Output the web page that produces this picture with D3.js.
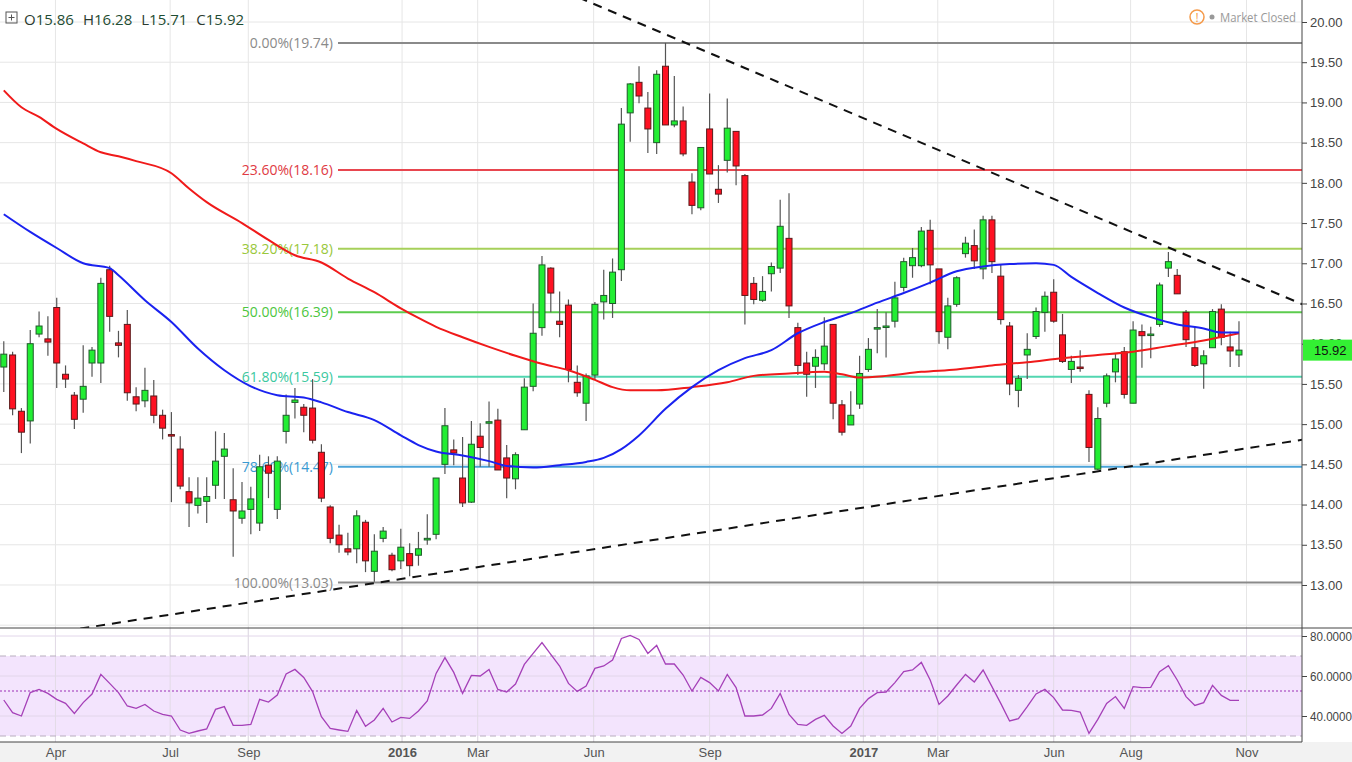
<!DOCTYPE html>
<html><head><meta charset="utf-8">
<script src="https://cdn.jsdelivr.net/npm/d3@7/dist/d3.min.js"></script>
<style>body{margin:0;background:#fff;font-family:"Open Sans","DejaVu Sans",sans-serif}</style>
</head><body><svg id="c" width="1352" height="762"></svg>
<script>
// ---------- DATA ----------
const startWeek = "2015-02-19"; // first weekly candle
// weekly OHLC [open, high, low, close]
const ohlc = [
[15.71,16.03,15.40,15.87],[15.86,15.90,15.11,15.19],[15.16,15.20,14.64,14.90],[15.04,16.17,14.76,16.00],[16.12,16.40,16.08,16.22],
[16.06,16.34,15.85,16.02],[16.45,16.57,15.45,15.76],[15.62,15.73,15.45,15.56],[15.36,15.40,14.94,15.06],[15.31,15.98,15.14,15.47],
[15.76,15.96,15.59,15.92],[15.76,16.82,15.51,16.75],[16.92,16.97,16.15,16.34],[16.01,16.16,15.83,15.98],[16.24,16.42,15.29,15.39],
[15.34,15.46,15.16,15.25],[15.29,15.70,15.21,15.42],[15.35,15.55,15.01,15.11],[15.11,15.18,14.81,14.95],[14.87,15.15,14.03,14.86],
[14.69,14.85,14.19,14.23],[14.16,14.34,13.72,14.02],[13.99,14.34,13.89,14.08],[14.04,14.34,13.77,14.10],[14.24,14.91,14.07,14.54],
[14.60,14.89,14.07,14.69],[14.06,14.45,13.35,13.92],[13.83,14.28,13.76,13.92],[13.94,14.22,13.63,14.07],[13.77,14.62,13.67,14.47],
[14.49,14.60,14.08,14.39],[13.94,14.60,13.82,14.54],[14.91,15.37,14.76,15.11],[15.27,15.45,15.07,15.30],[15.21,15.25,14.90,15.11],
[15.20,15.56,14.76,14.80],[14.65,14.75,14.03,14.08],[13.97,13.99,13.52,13.58],[13.62,13.75,13.40,13.50],[13.45,13.65,13.37,13.41],
[13.45,13.93,13.27,13.86],[13.78,13.81,13.16,13.30],[13.17,13.63,13.04,13.42],[13.58,13.72,13.53,13.67],[13.37,13.40,13.17,13.19],
[13.30,13.70,13.20,13.47],[13.39,13.52,13.11,13.24],[13.37,13.66,13.24,13.45],[13.56,13.88,13.50,13.58],[13.63,14.33,13.57,14.33],
[14.50,15.20,14.38,14.98],[14.68,14.81,14.49,14.64],[14.33,14.84,13.97,14.02],[14.03,15.04,14.02,14.75],[14.85,15.01,14.47,14.71],
[15.02,15.28,14.47,15.03],[15.05,15.19,14.43,14.43],[14.58,14.74,14.08,14.33],[14.32,14.65,14.19,14.62],[14.93,15.57,14.93,15.46],
[15.47,16.50,15.41,16.13],[16.20,17.09,16.10,16.98],[16.94,16.95,16.39,16.63],[16.28,16.65,16.08,16.24],[16.48,16.55,15.52,15.68],
[15.52,15.73,15.34,15.39],[15.26,15.63,15.04,15.60],[15.61,16.52,15.55,16.49],[16.52,16.92,16.30,16.60],[16.50,17.06,16.32,16.89],
[16.92,18.93,16.78,18.73],[18.87,19.24,18.51,19.23],[19.25,19.45,18.99,19.08],[18.93,19.13,18.37,18.67],[18.50,19.40,18.36,19.35],
[19.45,19.74,18.72,18.72],[18.72,19.33,18.69,18.77],[18.77,18.95,18.33,18.36],[18.01,18.12,17.61,17.72],[17.69,18.44,17.66,18.44],
[18.67,19.11,18.11,18.11],[17.92,18.22,17.75,17.86],[18.28,19.05,18.13,18.68],[18.64,18.64,17.97,18.21],[18.09,18.11,16.24,16.60],
[16.75,16.83,16.49,16.55],[16.54,16.84,16.52,16.65],[16.87,17.01,16.65,16.96],[16.94,17.79,16.88,17.46],[17.31,17.87,16.32,16.47],
[16.20,16.26,15.61,15.73],[15.76,15.90,15.34,15.62],[15.72,15.93,15.45,15.83],[15.75,16.33,15.67,15.97],[16.24,16.24,15.06,15.26],
[15.24,15.30,14.86,14.90],[14.99,15.41,14.99,15.11],[15.25,15.85,15.19,15.63],[15.68,16.07,15.65,15.93],[16.19,16.43,15.88,16.20],
[16.21,16.39,15.83,16.22],[16.28,16.77,16.20,16.57],[16.70,17.07,16.65,17.02],[16.97,17.19,16.82,17.07],[16.97,17.45,16.95,17.40],
[17.41,17.54,16.74,16.98],[16.93,16.93,16.00,16.15],[16.08,16.57,15.93,16.47],[16.49,16.84,16.46,16.82],[17.12,17.33,17.07,17.25],
[17.22,17.42,16.93,17.03],[16.93,17.59,16.80,17.54],[17.54,17.59,16.88,17.02],[16.84,16.98,16.24,16.30],[16.22,16.27,15.36,15.50],
[15.42,15.61,15.21,15.57],[15.86,16.13,15.56,15.93],[16.09,16.45,16.06,16.40],[16.39,16.65,16.15,16.59],[16.64,16.80,16.26,16.28],
[16.11,16.37,15.76,15.78],[15.68,15.85,15.51,15.78],[15.71,15.92,15.65,15.70],[15.37,15.42,14.53,14.71],[14.44,15.21,14.43,15.07],
[15.26,15.63,15.21,15.60],[15.65,15.88,15.52,15.81],[15.90,15.96,15.32,15.37],[15.26,16.28,15.26,16.17],[16.15,16.24,15.70,16.10],
[16.11,16.21,15.82,16.12],[16.24,16.76,16.21,16.73],[16.94,17.14,16.83,17.02],[16.85,16.93,16.62,16.62],[16.39,16.42,15.96,16.05],
[15.95,16.21,15.71,15.73],[15.75,15.92,15.44,15.85],[15.95,16.43,15.95,16.40],[16.43,16.49,15.98,16.08],[15.96,16.15,15.71,15.91],
[15.86,16.28,15.71,15.92]];
// moving averages sampled at week index: [index, value]
const maBlue = [[0,17.61],[3,17.39],[6,17.19],[9,17.00],[12,16.94],[13,16.85],[16,16.54],[19,16.27],[22,15.94],[25,15.67],[28,15.47],[31,15.36],[34,15.33],[36,15.27],[39,15.15],[42,15.05],[45,14.86],[47,14.74],[49,14.66],[52,14.61],[55,14.54],[57,14.48],[60,14.46],[63,14.49],[66,14.53],[68,14.58],[70,14.69],[72,14.86],[75,15.19],[78,15.46],[81,15.67],[84,15.82],[87,15.92],[90,16.13],[93,16.27],[96,16.38],[99,16.51],[102,16.63],[105,16.76],[108,16.90],[111,16.96],[114,16.99],[117,17.00],[119,16.98],[121,16.83],[124,16.63],[127,16.45],[130,16.33],[133,16.24],[136,16.19],[138,16.14],[140,16.14]];
const maRed = [[0,19.15],[2,18.94],[4,18.82],[6,18.67],[9,18.49],[11,18.38],[13,18.33],[15,18.27],[19,18.12],[21,17.93],[23,17.76],[27,17.50],[30,17.29],[33,17.10],[36,17.01],[39,16.81],[42,16.64],[45,16.44],[47,16.32],[49,16.21],[52,16.08],[55,15.96],[58,15.85],[61,15.75],[64,15.67],[67,15.55],[69,15.46],[71,15.42],[74,15.42],[78,15.46],[82,15.52],[85,15.60],[89,15.63],[93,15.65],[95,15.62],[97,15.58],[100,15.60],[104,15.65],[108,15.68],[112,15.73],[116,15.77],[120,15.82],[124,15.86],[128,15.90],[132,15.97],[136,16.04],[140,16.13]];
const rsi = [48,41.7,40,51.7,53.3,51.3,48.3,46.3,41.3,46.7,51,60.8,56.3,51.7,45,43.8,45.8,42.5,40.8,40,
33,31.3,32.5,33.5,43.3,44.7,35.3,35.3,35.8,48.3,47,50.5,61,63.3,59.3,52.2,39.7,33.8,33,32.3,
42.7,34.8,38,43.8,37,39.3,38.8,42.5,47.5,61.3,69.2,61.8,51.3,60.3,60,63.3,53.3,52,56,65.8,
71.3,76.7,70.8,65,56.3,52.3,55,63.8,65,68,78.8,80.3,78.3,71.3,75.3,66,66,
60.5,52.5,59.3,56.7,52.5,60.8,54.2,40,40,40.5,43.8,51.3,40.8,35.8,35.3,38.3,40.3,35,31.3,35,
43.8,48.7,51.7,52,56.7,62.2,63,66.8,58,45.8,50,55.5,60.8,57,63,54.7,46.3,37.5,38.7,44.7,
51,53.3,49.2,43,42.8,42,31.3,38.3,46.3,49.7,43.8,54.7,54.2,54.3,62.2,65.2,58,49.7,45.3,46.7,55.3,50.3,47.8,47.8];
const fibs = [
 {label:"0.00%(19.74)",v:19.74,c:"#8a8a8a",tc:"#8a8a8a"},
 {label:"23.60%(18.16)",v:18.16,c:"#e8464f",tc:"#e03a44"},
 {label:"38.20%(17.18)",v:17.18,c:"#a6d05a",tc:"#9ac83c"},
 {label:"50.00%(16.39)",v:16.39,c:"#5ccc4e",tc:"#4cc640"},
 {label:"61.80%(15.59)",v:15.59,c:"#52d6b0",tc:"#3cc8a0"},
 {label:"78.60%(14.47)",v:14.47,c:"#4ba3d8",tc:"#3a9ad2"},
 {label:"100.00%(13.03)",v:13.03,c:"#8a8a8a",tc:"#8a8a8a"}];
const trendDown = [[76,19.80],[133,17.15]];
const trendUp = [[43,13.04],[125,14.43]];
const priceTicks = [12.5,13,13.5,14,14.5,15,15.5,16,16.5,17,17.5,18,18.5,19,19.5,20];
const rsiTicks = [40,60,80];
const monthTicks = ["2015-04-01","2015-07-01","2015-09-01","2016-01-01","2016-03-01","2016-06-01","2016-09-01","2017-01-01","2017-03-01","2017-06-01","2017-08-01","2017-11-01"];
const lastClose = 15.92;

// ---------- CHART ----------
const svg = d3.select("#c");
const W = 1302, mainB = 628, rsiB = 742;
const x = d3.scaleTime().domain([new Date(2015,1,16), new Date(2017,11,15)]).range([0, W]);
const y = d3.scaleLinear().domain([12.5,20]).range([625.2,22]);
const yr = d3.scaleLinear().domain([40,80]).range([716,636]);
const d0 = new Date(startWeek+"T00:00:00");
const dt = i => d3.timeDay.offset(d0, 7*i);
const xi = i => x(dt(i));
const parse = s => new Date(s+"T00:00:00");
const axisFont = "'Liberation Sans',Arial,sans-serif";

svg.append("defs").append("clipPath").attr("id","cm").append("rect").attr("width",W).attr("height",mainB);
svg.append("rect").attr("x",0).attr("y",rsiB).attr("width",1352).attr("height",20).attr("fill","#f2f2f2");

// grids
const g = svg.append("g");
g.selectAll(".hg").data(priceTicks).join("line").attr("x1",0).attr("x2",W)
 .attr("y1",d=>y(d)).attr("y2",d=>y(d)).attr("stroke","#e6e6e6");
g.selectAll(".vg").data(monthTicks).join("line").attr("x1",d=>x(parse(d))).attr("x2",d=>x(parse(d)))
 .attr("y1",0).attr("y2",rsiB).attr("stroke","#e6e6e6");

// fib lines
const fg = svg.append("g");
const fib = fg.selectAll("g").data(fibs).join("g");
fib.append("line").attr("x1",338).attr("x2",W).attr("y1",d=>y(d.v)).attr("y2",d=>y(d.v))
 .attr("stroke",d=>d.c).attr("stroke-width",2);
fib.append("text").attr("x",333).attr("y",d=>y(d.v)+5).attr("text-anchor","end")
 .attr("font-size",14).attr("fill",d=>d.tc).text(d=>d.label);

const mg = svg.append("g").attr("clip-path","url(#cm)");
// trendlines
function tline(pts){
  const s=(pts[1][1]-pts[0][1])/(pts[1][0]-pts[0][0]);
  const a=-20,b=160;
  return [[a,pts[0][1]+s*(a-pts[0][0])],[b,pts[0][1]+s*(b-pts[0][0])]];
}
[trendDown,trendUp].forEach(p=>{
  const l=tline(p);
  mg.append("line").attr("x1",xi(l[0][0])).attr("y1",y(l[0][1])).attr("x2",xi(l[1][0])).attr("y2",y(l[1][1]))
   .attr("stroke","#111").attr("stroke-width",2).attr("stroke-dasharray","9,7");
});

// candles
const cg = mg.append("g");
const cd = cg.selectAll("g").data(ohlc).join("g");
cd.append("line").attr("x1",(d,i)=>xi(i)).attr("x2",(d,i)=>xi(i))
 .attr("y1",d=>y(d[1])).attr("y2",d=>y(d[2])).attr("stroke","#555").attr("stroke-width",1.2);
cd.append("rect").attr("x",(d,i)=>xi(i)-3).attr("width",6)
 .attr("y",d=>y(Math.max(d[0],d[3]))).attr("height",d=>Math.max(1.5,Math.abs(y(d[0])-y(d[3]))))
 .attr("fill",d=>d[3]>=d[0]?"#22ee33":"#ff1122")
 .attr("stroke",d=>d[3]>=d[0]?"#1f5a2a":"#5a1a1a").attr("stroke-width",1);

// MAs
const ln = d3.line().x(d=>xi(d[0])).y(d=>y(d[1])).curve(d3.curveMonotoneX);
mg.append("path").attr("d",ln(maRed)).attr("fill","none").attr("stroke","#f01a1a").attr("stroke-width",2);
mg.append("path").attr("d",ln(maBlue)).attr("fill","none").attr("stroke","#1a22f0").attr("stroke-width",2);

// RSI panel
const rg = svg.append("g");
rg.append("rect").attr("x",0).attr("width",W).attr("y",yr(70)).attr("height",yr(30)-yr(70)).attr("fill","#f3e4fd");
rg.selectAll(".rh").data(rsiTicks).join("line").attr("x1",0).attr("x2",W).attr("y1",d=>yr(d)).attr("y2",d=>yr(d)).attr("stroke","#e2d6ea");
rg.selectAll(".vg2").data(monthTicks).join("line").attr("x1",d=>x(parse(d))).attr("x2",d=>x(parse(d)))
 .attr("y1",mainB).attr("y2",rsiB).attr("stroke","#e2dbe6");
[70,30].forEach(v=>rg.append("line").attr("x1",0).attr("x2",W).attr("y1",yr(v)).attr("y2",yr(v))
  .attr("stroke","#b9aebf").attr("stroke-dasharray","6,4"));
rg.append("line").attr("x1",0).attr("x2",W).attr("y1",yr(52.5)).attr("y2",yr(52.5))
 .attr("stroke","#9b2fb5").attr("stroke-dasharray","2,2");
rg.append("path").attr("d",d3.line().x((d,i)=>xi(i)).y(d=>yr(d))(rsi)).attr("fill","none")
 .attr("stroke","#a540b8").attr("stroke-width",1.3);

// frame lines
svg.append("line").attr("x1",0).attr("x2",1352).attr("y1",mainB).attr("y2",mainB).attr("stroke","#444");
svg.append("line").attr("x1",0).attr("x2",W).attr("y1",rsiB).attr("y2",rsiB).attr("stroke","#444");
svg.append("line").attr("x1",W).attr("x2",W).attr("y1",0).attr("y2",rsiB).attr("stroke","#444");

// axes
const ay = svg.append("g").attr("transform",`translate(${W},0)`)
 .call(d3.axisRight(y).tickValues(priceTicks.slice(1)).tickFormat(d3.format(".2f")).tickSize(5).tickSizeOuter(0));
const ar = svg.append("g").attr("transform",`translate(${W},0)`)
 .call(d3.axisRight(yr).tickValues(rsiTicks).tickFormat(d3.format(".4f")).tickSize(5).tickSizeOuter(0));
const ax = svg.append("g").attr("transform",`translate(0,${rsiB})`)
 .call(d3.axisBottom(x).tickValues(monthTicks.map(parse)).tickSize(0).tickPadding(6)
   .tickFormat(d=>d.getMonth()===0?d3.timeFormat("%Y")(d):d3.timeFormat("%b")(d)));
[ay,ar,ax].forEach(a=>{a.select(".domain").remove();
  a.selectAll("text").attr("font-size",13).attr("fill","#444").attr("font-family",axisFont);
  a.selectAll("line").attr("stroke","#444");});
ar.selectAll("text").attr("font-size",12.5).attr("textLength",42).attr("lengthAdjust","spacingAndGlyphs");
ax.selectAll("text").attr("font-weight",d=>d.getMonth()===0?"bold":"normal").attr("fill","#555");

// last price label
svg.append("rect").attr("x",W+1).attr("y",y(lastClose)-10.5).attr("width",49).attr("height",21).attr("fill","#33f033");
svg.append("text").attr("x",W+12).attr("y",y(lastClose)+5).attr("font-size",13).attr("fill","#111")
 .attr("font-family",axisFont).text(d3.format(".2f")(lastClose));

// header
svg.append("rect").attr("x",6).attr("y",12).attr("width",11).attr("height",11).attr("fill","none").attr("stroke","#555");
svg.append("path").attr("d","M8.5,17.5H14.5M11.5,14.5V20.5").attr("stroke","#555");
const last = ohlc[ohlc.length-1];
const ht = svg.append("text").attr("x",24).attr("y",25).attr("font-size",15).attr("fill","#1f4d33");
[["O",last[0]],["H",last[1]],["L",last[2]],["C",last[3]]].forEach((p,k)=>{
  ht.append("tspan").attr("dx",k?9:0).attr("fill","#2a3a30").text(p[0]);
  ht.append("tspan").text(d3.format(".2f")(p[1]));
});
svg.append("circle").attr("cx",1197).attr("cy",17).attr("r",7).attr("fill","none").attr("stroke","#f59a4a").attr("stroke-width",1.5);
svg.append("text").attr("x",1197).attr("y",21.5).attr("text-anchor","middle").attr("font-size",12).attr("fill","#f59a4a").text("!");
svg.append("circle").attr("cx",1212).attr("cy",17).attr("r",2.5).attr("fill","#999");
svg.append("text").attr("x",1220).attr("y",22).attr("font-size",13).attr("fill","#999")
 .attr("textLength",76).attr("lengthAdjust","spacingAndGlyphs").text("Market Closed");
</script></body></html>
